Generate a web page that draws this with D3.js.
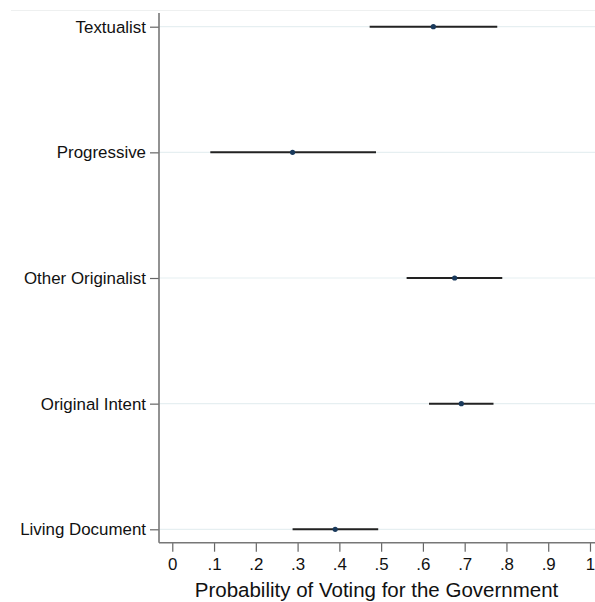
<!DOCTYPE html>
<html><head><meta charset="utf-8">
<script src="https://cdn.jsdelivr.net/npm/d3@7"></script>
<style>body{margin:0;background:#fff}svg{display:block}</style>
</head><body>
<script>
const categories = ["Textualist","Progressive","Other Originalist","Original Intent","Living Document"];
const estimates = [0.625, 0.288, 0.676, 0.692, 0.390];
const lowerCI = [0.4725, 0.091, 0.561, 0.6146, 0.288];
const upperCI = [0.778, 0.4877, 0.790, 0.769, 0.493];
const xTicks = [0,0.1,0.2,0.3,0.4,0.5,0.6,0.7,0.8,0.9,1];
const xTickLabels = ["0",".1",".2",".3",".4",".5",".6",".7",".8",".9","1"];
const xTitle = "Probability of Voting for the Government";

const W = 595, H = 602;
const svg = d3.select("body").append("svg").attr("width", W).attr("height", H);
const font = "Helvetica, 'Liberation Sans', Arial, sans-serif";

const plotLeft = 159, plotRight = 595, plotTop = 13, plotBottom = 542.7;
const x = d3.scaleLinear().domain([-0.0318, 1.012]).range([plotLeft, plotRight]);
const y = d3.scalePoint().domain(categories).range([26.7, 529.3]);

// faint outer border line
svg.append("line").attr("x1", 11).attr("x2", W).attr("y1", 10.5).attr("y2", 10.5)
  .attr("stroke", "#eef0f0").attr("stroke-width", 1);

// gridlines
svg.append("g").selectAll("line").data(categories).join("line")
  .attr("x1", plotLeft).attr("x2", plotRight)
  .attr("y1", d => y(d)).attr("y2", d => y(d))
  .attr("stroke", "#e6eff1").attr("stroke-width", 1.2);

// y axis
const yAxis = d3.axisLeft(y).tickSize(9).tickPadding(4);
const gy = svg.append("g").attr("transform", `translate(${plotLeft},0)`).call(yAxis);
gy.select(".domain").remove();
gy.append("line").attr("x1", 0).attr("x2", 0).attr("y1", plotTop).attr("y2", plotBottom).attr("stroke", "#777").attr("stroke-width", 1.6);
gy.selectAll(".tick line").attr("stroke", "#666").attr("stroke-width", 1.2);
gy.selectAll(".tick text").attr("font-family", font).attr("font-size", 16.9).attr("fill", "#111");

// x axis
const xAxis = d3.axisBottom(x).tickValues(xTicks).tickFormat((d, i) => xTickLabels[i]).tickSize(9).tickPadding(6);
const gx = svg.append("g").attr("transform", `translate(0,${plotBottom})`).call(xAxis);
gx.select(".domain").remove();
gx.append("line").attr("x1", plotLeft).attr("x2", plotRight).attr("y1", 0).attr("y2", 0).attr("stroke", "#777").attr("stroke-width", 1.6);
gx.selectAll(".tick line").attr("stroke", "#666").attr("stroke-width", 1.2);
gx.selectAll(".tick text").attr("font-family", font).attr("font-size", 16.9).attr("fill", "#111");

// x title
svg.append("text").attr("x", 376.5).attr("y", 597)
  .attr("text-anchor", "middle").attr("font-family", font).attr("font-size", 20.5).attr("fill", "#111")
  .text(xTitle);

// CI lines
svg.append("g").selectAll("line").data(categories).join("line")
  .attr("x1", (d, i) => x(lowerCI[i])).attr("x2", (d, i) => x(upperCI[i]))
  .attr("y1", d => y(d)).attr("y2", d => y(d))
  .attr("stroke", "#222").attr("stroke-width", 2);

// points
svg.append("g").selectAll("circle").data(categories).join("circle")
  .attr("cx", (d, i) => x(estimates[i])).attr("cy", d => y(d)).attr("r", 2.6)
  .attr("fill", "#1a3a5c");
</script>
</body></html>
